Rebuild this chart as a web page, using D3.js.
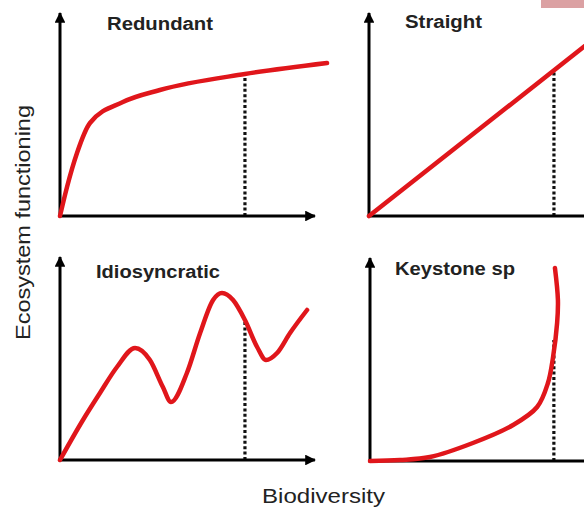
<!DOCTYPE html>
<html><head><meta charset="utf-8">
<script src="https://cdn.jsdelivr.net/npm/d3@7"></script>
<style>html,body{margin:0;padding:0;background:#fff;overflow:hidden}</style>
</head><body><svg id="c" width="584" height="510"></svg>
<script>
// ---- data (x: biodiversity 0-10, y: ecosystem functioning 0-10) ----
const panelTitles = ["Redundant", "Straight", "Idiosyncratic", "Keystone sp"];
const redundantX = [0, 0.26, 0.63, 1.11, 2.33, 3.70, 6.85, 9.89];
const redundantY = [0, 1.45, 3.15, 4.65, 5.70, 6.30, 7.10, 7.65];
const straightX = [0, 9.5];
const straightY = [0, 10.1];
const idioX = [0, 0.85, 1.48, 2.11, 2.78, 3.33, 3.81, 4.11, 4.70, 5.19, 5.67, 6.00, 6.41, 6.85, 7.30, 7.63, 8.04, 8.52, 9.15];
const idioY = [0, 2.0, 3.35, 4.65, 5.6, 5.0, 3.65, 2.9, 4.35, 6.35, 8.0, 8.35, 8.0, 7.0, 5.65, 5.0, 5.35, 6.35, 7.5];
const keyX = [0, 1.11, 2.22, 3.81, 5.30, 6.19, 6.59, 6.78, 6.93, 6.96, 6.85];
const keyY = [0, 0.05, 0.2, 0.9, 1.8, 2.7, 3.9, 5.2, 6.9, 8.05, 9.65];
const markerX = [6.85, 6.85, 6.85, 6.81];        // dotted reference line position
const markerTop = [7.1, 7.27, 7.0, 6.05];        // dotted line top
const xLabel = "Biodiversity";
const yLabel = "Ecosystem functioning";

const series = [
  redundantX.map((x, i) => [x, redundantY[i]]),
  straightX.map((x, i) => [x, straightY[i]]),
  idioX.map((x, i) => [x, idioY[i]]),
  keyX.map((x, i) => [x, keyY[i]])
];

// ---- layout ----
const svg = d3.select("#c");
const origins = [[60, 216], [369, 216], [60, 460], [370, 461]];
const xAxisEnd = [9.44, 10, 9.44, 10];
const titlePos = [[107, 30, 106], [405, 28, 77], [96, 278, 124], [395, 275, 120]];
const curves = [d3.curveMonotoneX, d3.curveLinear, d3.curveMonotoneX, d3.curveCatmullRom.alpha(0.5)];

const defs = svg.append("defs");
defs.append("marker").attr("id", "arr").attr("viewBox", "0 0 10 10")
  .attr("refX", 9).attr("refY", 5).attr("markerWidth", 4).attr("markerHeight", 3.6)
  .attr("markerUnits", "strokeWidth").attr("orient", "auto")
  .append("path").attr("d", "M0,0L10,5L0,10Z").attr("fill", "#000");

// pink fragment at top-right
svg.append("rect").attr("x", 541).attr("y", 0).attr("width", 43).attr("height", 8)
  .attr("fill", "#dba1a3");

series.forEach((pts, k) => {
  const [ox, oy] = origins[k];
  const x = d3.scaleLinear().domain([0, 10]).range([ox, ox + 270]);
  const y = d3.scaleLinear().domain([0, 10]).range([oy, oy - 200]);
  const g = svg.append("g");

  // dotted reference line
  g.append("line")
    .attr("x1", x(markerX[k])).attr("x2", x(markerX[k]))
    .attr("y1", y(0)).attr("y2", y(markerTop[k]))
    .attr("stroke", "#111").attr("stroke-width", 3.2)
    .attr("stroke-dasharray", "3,2.4");

  // axes with arrowheads
  g.append("line").attr("x1", x(0)).attr("y1", y(0)).attr("x2", x(0)).attr("y2", y(10.15))
    .attr("stroke", "#000").attr("stroke-width", 3).attr("marker-end", "url(#arr)");
  g.append("line").attr("x1", x(0) - 1.5).attr("y1", y(0)).attr("x2", x(xAxisEnd[k])).attr("y2", y(0))
    .attr("stroke", "#000").attr("stroke-width", 3).attr("marker-end", "url(#arr)");

  // curve
  g.append("path").datum(pts)
    .attr("d", d3.line().x(d => x(d[0])).y(d => y(d[1])).curve(curves[k]))
    .attr("fill", "none").attr("stroke", "#e0161b").attr("stroke-width", 4.5)
    .attr("stroke-linecap", "round").attr("stroke-linejoin", "round");

  // title
  const [tx, ty, tw] = titlePos[k];
  g.append("text").attr("x", tx).attr("y", ty).text(panelTitles[k])
    .attr("font-family", "Liberation Sans, Arial, sans-serif").attr("font-weight", "bold")
    .attr("font-size", 18).attr("fill", "#222")
    .attr("textLength", tw).attr("lengthAdjust", "spacingAndGlyphs");
});

svg.append("text").attr("x", 262).attr("y", 503).text(xLabel)
  .attr("font-family", "Liberation Sans, Arial, sans-serif").attr("font-size", 21).attr("fill", "#222")
  .attr("textLength", 123).attr("lengthAdjust", "spacingAndGlyphs");

svg.append("text").attr("transform", "translate(30,340) rotate(-90)").text(yLabel)
  .attr("font-family", "Liberation Sans, Arial, sans-serif").attr("font-size", 21).attr("fill", "#222")
  .attr("textLength", 235).attr("lengthAdjust", "spacingAndGlyphs");
</script></body></html>
